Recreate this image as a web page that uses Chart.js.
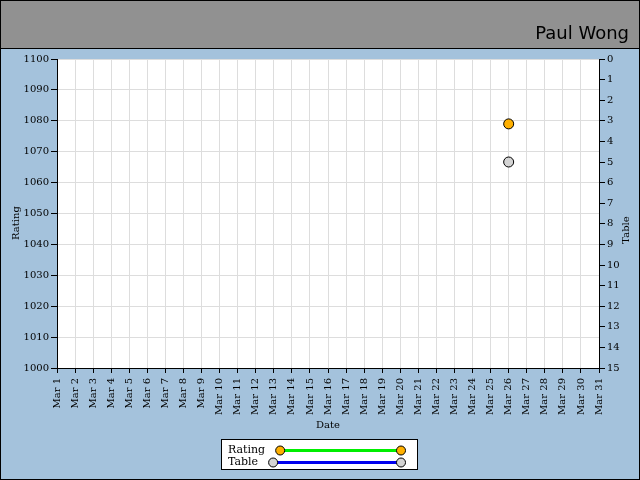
<!DOCTYPE html>
<html>
<head>
<meta charset="utf-8">
<script src="https://cdn.jsdelivr.net/npm/chart.js@4.4.1/dist/chart.umd.min.js"></script>
<style>
  html, body { margin: 0; padding: 0; background: #a4c2dc; }
  #wrap { width: 640px; height: 480px; position: relative; }
</style>
</head>
<body>
<div id="wrap"><canvas id="chartRating" width="640" height="480"></canvas></div>
<script>
// Datos
const fechas = ['Mar 1', 'Mar 2', 'Mar 3', 'Mar 4', 'Mar 5', 'Mar 6', 'Mar 7', 'Mar 8', 'Mar 9', 'Mar 10',
    'Mar 11', 'Mar 12', 'Mar 13', 'Mar 14', 'Mar 15', 'Mar 16', 'Mar 17', 'Mar 18', 'Mar 19', 'Mar 20',
    'Mar 21', 'Mar 22', 'Mar 23', 'Mar 24', 'Mar 25', 'Mar 26', 'Mar 27', 'Mar 28', 'Mar 29', 'Mar 30', 'Mar 31'];
const rating = [null, null, null, null, null, null, null, null, null, null,
    null, null, null, null, null, null, null, null, null, null,
    null, null, null, null, null, 1079, null, null, null, null, null];
const tabla = [null, null, null, null, null, null, null, null, null, null,
    null, null, null, null, null, null, null, null, null, null,
    null, null, null, null, null, 5, null, null, null, null, null];
const ratingTicks = [1000, 1100, 10];
const tablaTicks = [0, 15, 1];
const jugador = 'Paul Wong';

const fuente = '"DejaVu Serif", serif';
Chart.defaults.font.family = fuente;
Chart.defaults.font.size = 10;
Chart.defaults.color = '#000';

// texto girado de abajo hacia arriba
function textoVertical(c, txt, x, y) {
    c.save();
    c.translate(x, y);
    c.rotate(-Math.PI / 2);
    c.fillText(txt, 0, 0);
    c.restore();
}

// fondo, cabecera, titulos de ejes y leyenda
const marco = {
    id: 'marco',
    beforeDraw(chart) {
        const c = chart.ctx;
        const w = chart.width, h = chart.height;
        c.save();
        c.fillStyle = '#a4c2dc';
        c.fillRect(0, 0, w, h);
        c.fillStyle = '#919191';
        c.fillRect(0, 0, w, 48);
        c.fillStyle = '#fff';
        const a = chart.chartArea;
        c.fillRect(a.left, a.top, a.right - a.left, a.bottom - a.top);
        c.restore();
    },
    afterDraw(chart) {
        const c = chart.ctx;
        const w = chart.width, h = chart.height;
        c.save();
        c.strokeStyle = '#000';
        c.lineWidth = 1;
        c.beginPath();
        c.moveTo(0, 48.5); c.lineTo(w, 48.5);
        c.stroke();
        c.strokeRect(0.5, 0.5, w - 1, h - 1);

        c.fillStyle = '#000';
        c.font = '18px "DejaVu Sans", sans-serif';
        c.textAlign = 'right';
        c.textBaseline = 'alphabetic';
        c.fillText(jugador, 629, 39);

        c.font = '10px ' + fuente;
        c.textAlign = 'center';
        c.textBaseline = 'middle';
        textoVertical(c, 'Rating', 16, 223);
        textoVertical(c, 'Table', 626, 230);
        c.restore();

        // leyenda
        c.save();
        c.fillStyle = '#fff';
        c.fillRect(221, 439, 197, 31);
        c.strokeStyle = '#000';
        c.strokeRect(221.5, 439.5, 196, 30);
        c.font = '11px ' + fuente;
        c.textAlign = 'left';
        c.textBaseline = 'middle';
        chart.data.datasets.forEach(function (ds, i) {
            const y = 450.5 + i * 12;
            c.fillStyle = '#000';
            c.fillText(ds.label, 228, y);
            const x0 = 228 + c.measureText(ds.label).width + 15;
            const x1 = 401;
            c.strokeStyle = ds.borderColor;
            c.lineWidth = 3;
            c.beginPath();
            c.moveTo(x0, y); c.lineTo(x1, y);
            c.stroke();
            [x0, x1].forEach(function (x) {
                c.beginPath();
                c.arc(x, y, 4.5, 0, Math.PI * 2);
                c.fillStyle = ds.pointBackgroundColor;
                c.fill();
                c.lineWidth = 1;
                c.strokeStyle = '#000';
                c.stroke();
            });
        });
        c.restore();
    }
};

const sinComas = function (v) { return String(v); };

const ctx = document.getElementById('chartRating').getContext('2d');
new Chart(ctx, {
    type: 'line',
    data: {
        labels: fechas,
        datasets: [
            {
                label: 'Rating',
                data: rating,
                yAxisID: 'y',
                borderColor: '#00ee00',
                borderWidth: 3,
                pointBackgroundColor: '#ffb000',
                pointBorderColor: '#000',
                pointBorderWidth: 1,
                pointRadius: 5
            },
            {
                label: 'Table',
                data: tabla,
                yAxisID: 'y2',
                borderColor: '#0000ee',
                borderWidth: 3,
                pointBackgroundColor: '#d4d4d4',
                pointBorderColor: '#000',
                pointBorderWidth: 1,
                pointRadius: 5
            }
        ]
    },
    options: {
        responsive: false,
        animation: false,
        layout: { padding: { top: 59, left: 0, right: 0, bottom: 0 } },
        plugins: {
            legend: { display: false },
            tooltip: { enabled: false }
        },
        scales: {
            x: {
                offset: false,
                afterFit: function (s) { s.height = 112; },
                grid: { color: '#dddddd', tickColor: '#000', tickLength: 5 },
                border: { color: '#000', width: 1 },
                ticks: { autoSkip: false, maxRotation: 90, minRotation: 90, padding: 5 },
                title: { display: true, text: 'Date', padding: { top: 0, bottom: 49 } }
            },
            y: {
                position: 'left',
                min: ratingTicks[0],
                max: ratingTicks[1],
                afterFit: function (s) { s.width = 57; },
                grid: { color: '#dddddd', tickColor: '#000', tickLength: 6 },
                border: { color: '#000', width: 1 },
                ticks: { stepSize: ratingTicks[2], padding: 2, callback: sinComas }
            },
            y2: {
                position: 'right',
                reverse: true,
                min: tablaTicks[0],
                max: tablaTicks[1],
                afterFit: function (s) { s.width = 41; },
                grid: { drawOnChartArea: false, tickColor: '#000', tickLength: 6 },
                border: { color: '#000', width: 1 },
                ticks: { stepSize: tablaTicks[2], padding: 2, callback: sinComas }
            }
        }
    },
    plugins: [marco]
});
</script>
</body>
</html>
